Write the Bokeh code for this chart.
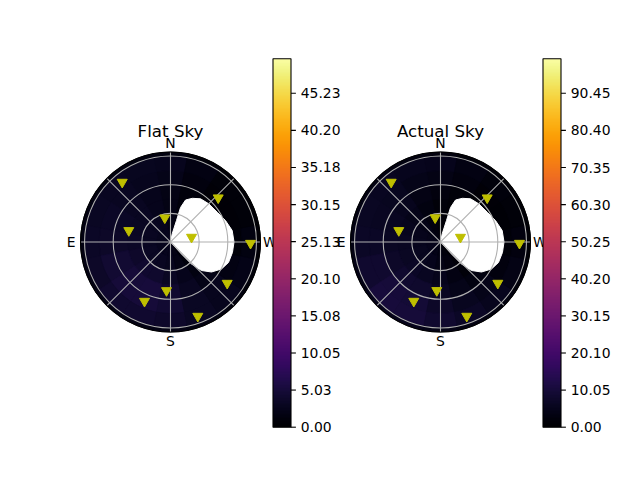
import numpy as np
from bokeh.plotting import figure
from bokeh.models import ColumnDataSource, Range1d, LinearColorMapper
from bokeh.palettes import Inferno256
from bokeh.transform import linear_cmap
from bokeh.core.properties import value
from bokeh.embed import file_html
from bokeh.resources import INLINE

# ---------------- data ----------------
titles = ["Flat Sky", "Actual Sky"]

# zenith-angle ring edges (deg) and azimuth sector centres (deg, N=0, E=90)
ring_edges = [0, 15, 30, 45, 60, 75, 90, 94.2]
az_centers = [0, 22.5, 45, 67.5, 90, 112.5, 135, 157.5,
              180, 202.5, 225, 247.5, 270, 292.5, 315, 337.5]

flat_sky = [
    [2.1, 2.6, 2.7, 2.7, 2.7, 2.7, 2.7, 2.7, 2.6, 1.9, 1.0, 0.5, 0.4, 0.4, 0.6, 1.4],
    [1.9, 2.6, 2.9, 3.0, 3.0, 3.2, 3.3, 3.1, 2.7, 1.9, 1.0, 0.5, 0.4, 0.4, 0.6, 1.2],
    [1.8, 2.5, 3.0, 3.3, 3.4, 3.8, 4.1, 4.0, 3.3, 2.4, 1.4, 0.6, 0.4, 0.4, 0.6, 1.0],
    [1.9, 2.5, 3.0, 3.4, 3.7, 4.3, 5.0, 5.1, 4.2, 3.0, 2.0, 1.0, 0.5, 0.4, 0.6, 1.0],
    [2.3, 2.7, 3.0, 3.4, 3.7, 4.3, 5.0, 5.0, 4.3, 3.3, 2.6, 1.6, 0.9, 0.6, 0.6, 1.2],
    [2.7, 2.9, 3.1, 3.2, 3.4, 3.7, 4.1, 4.1, 3.8, 3.3, 2.7, 2.1, 1.4, 0.9, 0.9, 1.6],
    [1.4, 1.4, 1.5, 1.6, 1.7, 1.8, 1.9, 1.9, 1.8, 1.7, 1.4, 1.0, 0.7, 0.5, 0.5, 0.9],
]
actual_sky = [
    [1.2, 2.4, 3.6, 4.4, 4.8, 4.8, 4.8, 4.0, 3.2, 2.0, 1.0, 0.6, 0.5, 0.5, 0.6, 0.8],
    [1.2, 2.4, 4.0, 5.0, 5.4, 5.6, 5.6, 4.8, 3.8, 2.6, 1.3, 0.7, 0.5, 0.5, 0.6, 0.8],
    [1.6, 2.9, 4.5, 5.4, 5.9, 6.4, 6.8, 6.0, 4.8, 3.4, 1.9, 1.0, 0.5, 0.5, 0.7, 1.1],
    [2.4, 3.7, 5.1, 5.9, 6.4, 7.4, 8.2, 7.8, 6.2, 4.5, 3.0, 1.8, 0.8, 0.6, 1.0, 1.6],
    [3.7, 4.5, 5.6, 6.2, 6.9, 8.4, 9.8, 9.4, 7.4, 5.8, 4.3, 2.7, 1.6, 1.1, 1.4, 2.4],
    [4.8, 5.3, 5.9, 6.4, 7.0, 8.4, 10.2, 9.8, 8.2, 6.7, 5.3, 3.8, 2.6, 1.9, 2.2, 3.5],
    [2.7, 2.9, 3.2, 3.4, 3.7, 4.2, 4.8, 4.7, 4.2, 3.5, 2.9, 2.1, 1.4, 1.1, 1.3, 1.9],
]
flat_vmax = 49.9
actual_vmax = 99.8
flat_ticks = [0.00, 5.03, 10.05, 15.08, 20.10, 25.13, 30.15, 35.18, 40.20, 45.23]
actual_ticks = [0.00, 10.05, 20.10, 30.15, 40.20, 50.25, 60.30, 70.35, 80.40, 90.45]

# star positions (azimuth deg, zenith deg)
flat_star_az = [38.9, 312.8, 13.3, 74.6, 282.9, 269.1, 234.0, 175.3, 156.3, 200.2]
flat_star_zen = [80.5, 68.1, 26.0, 45.3, 22.6, 83.8, 73.4, 51.0, 67.7, 82.8]
actual_star_az = [39.5, 313.4, 12.4, 74.6, 283.5, 269.1, 234.3, 175.6, 155.7, 199.5]
actual_star_zen = [81.2, 67.3, 26.0, 45.3, 21.5, 82.7, 73.9, 50.9, 68.0, 82.4]

# excluded (blank) region outline
mask_az = [0, 348.3, 344.4, 343.8, 340.3, 333.3, 325.2, 314.9, 302.5, 291.4,
           280.6, 270.0, 260.4, 250.5, 242.1, 233.8, 227.4, 223.7, 222.5]
mask_zen = [0, 8.8, 23.4, 37.6, 46.7, 51.2, 55.1, 56.6, 58.0, 61.8,
            65.7, 66.5, 65.8, 64.4, 60.4, 53.2, 44.1, 31.8, 17.1]

r_grid = [30, 60, 90]
spoke_az = [0, 45, 90, 135]
dir_labels = ["N", "E", "S", "W"]
dir_az = [0, 90, 180, 270]
R_MAX = 94.2

# ---------------- layout constants ----------------
W, H = 624, 464
S = 0.955                 # px per degree
CY = 241.5                # polar centre (px from top)
CX = [170, 440]           # polar centres (px from left)
BAR_X = [272.5, 542.5]    # colour bar left edges
BAR_TOP, BAR_BOT = 58.3, 426.7
FONT = value("DejaVu Sans")

p = figure(width=W, height=H, output_backend="svg", toolbar_location=None,
           x_axis_location=None, y_axis_location=None, min_border=0,
           x_range=Range1d(-CX[0] / S, (W - CX[0]) / S),
           y_range=Range1d(-(H - CY) / S, CY / S))
p.grid.visible = False
p.outline_line_color = None
p.background_fill_color = "white"
p.border_fill_color = "white"
p.extra_x_ranges = {"p2": Range1d(-CX[1] / S, (W - CX[1]) / S),
                    "px": Range1d(0, W)}


def cb_range(vmax):
    k = (BAR_BOT - BAR_TOP) / vmax
    return Range1d(-(H - BAR_BOT) / k, vmax + BAR_TOP / k)


p.extra_y_ranges = {"cb1": cb_range(flat_vmax), "cb2": cb_range(actual_vmax)}


def to_xy(az_list, zen_list):
    a = np.radians(np.asarray(az_list, float))
    z = np.asarray(zen_list, float)
    return (-z * np.sin(a)).tolist(), (z * np.cos(a)).tolist()


def draw_polar(xr, title, grid_vals, vmax, star_az, star_zen):
    kw = dict(x_range_name=xr)
    cmap = linear_cmap("v", Inferno256, 0, vmax)
    p.circle(x=0, y=0, radius=R_MAX, fill_color=Inferno256[9], line_color=None, **kw)

    half = 360.0 / len(az_centers) / 2
    inner, outer, start, end, vals = [], [], [], [], []
    for i in range(len(ring_edges) - 1):
        for j, az in enumerate(az_centers):
            inner.append(ring_edges[i])
            outer.append(ring_edges[i + 1])
            start.append(np.radians(90 + az - half))
            end.append(np.radians(90 + az + half))
            vals.append(grid_vals[i][j])
    src = ColumnDataSource(dict(inner=inner, outer=outer, start=start, end=end, v=vals))
    p.annular_wedge(x=0, y=0, inner_radius="inner", outer_radius="outer",
                    start_angle="start", end_angle="end", source=src,
                    fill_color=cmap, line_color=cmap, line_width=0.8, **kw)

    mx, my = to_xy(mask_az, mask_zen)
    p.patch(mx, my, fill_color="white", line_color="white", line_width=1, **kw)

    p.circle(x=0, y=0, radius=r_grid, fill_color=None, line_color="#b0b0b0",
             line_width=1.1, **kw)
    x0, y0 = to_xy(spoke_az, [R_MAX] * len(spoke_az))
    x1, y1 = to_xy([a + 180 for a in spoke_az], [R_MAX] * len(spoke_az))
    p.segment(x0=x0, y0=y0, x1=x1, y1=y1, line_color="#b0b0b0", line_width=1.1, **kw)
    p.circle(x=0, y=0, radius=R_MAX, fill_color=None, line_color="black",
             line_width=1.1, **kw)

    sx, sy = to_xy(star_az, star_zen)
    p.scatter(sx, sy, marker="inverted_triangle", size=10,
              fill_color="#bfbf00", line_color="#bfbf00", line_width=1, **kw)

    lx, ly = to_xy(dir_az, [104] * 4)
    p.text(x=lx, y=ly, text=dir_labels, text_align="center", text_baseline="middle",
           text_font=FONT, text_font_size="13.9px", text_color="black", **kw)
    p.text(x=[0], y=[116.0], text=[title], text_align="center",
           text_baseline="alphabetic", text_font=FONT, text_font_size="16.7px",
           text_color="black", **kw)


def draw_cbar(x0, yr, vmax, ticks):
    kw = dict(x_range_name="px", y_range_name=yr)
    mapper = LinearColorMapper(palette=Inferno256, low=0, high=vmax)
    ramp = np.linspace(0, vmax, 256).reshape(256, 1)
    p.image(image=[ramp], x=x0, y=0, dw=18, dh=vmax, color_mapper=mapper, **kw)
    p.quad(left=[x0], right=[x0 + 18], bottom=[0], top=[vmax], fill_color=None,
           line_color="black", line_width=1.1, **kw)
    n = len(ticks)
    p.segment(x0=[x0 + 18] * n, y0=ticks, x1=[x0 + 22.9] * n, y1=ticks,
              line_color="black", line_width=1.1, **kw)
    p.text(x=[x0 + 27.7] * n, y=ticks, text=["%.2f" % t for t in ticks],
           text_align="left", text_baseline="middle", text_font=FONT,
           text_font_size="13.9px", text_color="black", **kw)


draw_polar("default", titles[0], flat_sky, flat_vmax, flat_star_az, flat_star_zen)
draw_cbar(BAR_X[0], "cb1", flat_vmax, flat_ticks)
draw_polar("p2", titles[1], actual_sky, actual_vmax, actual_star_az, actual_star_zen)
draw_cbar(BAR_X[1], "cb2", actual_vmax, actual_ticks)

open("out.html", "w").write(file_html(p, INLINE))
